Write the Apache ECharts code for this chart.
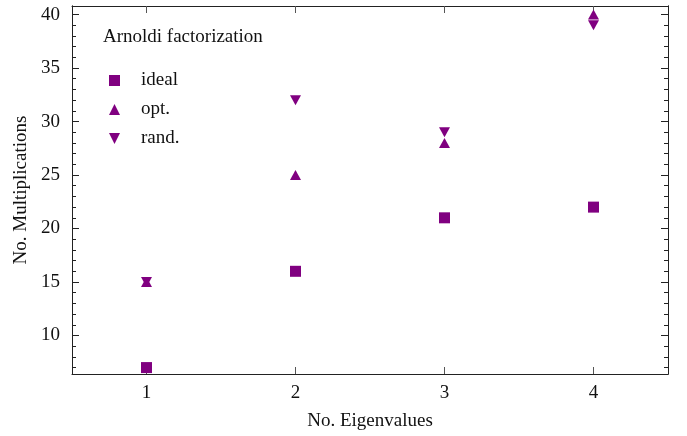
<!DOCTYPE html>
<html>
<head>
<meta charset="utf-8">
<script src="https://cdn.jsdelivr.net/npm/echarts@6/dist/echarts.min.js"></script>
<style>
  html, body { margin: 0; padding: 0; background: #fff; }
  #chart { width: 687px; height: 436px; }
</style>
</head>
<body>
<div id="chart"></div>
<script>
// Number of eigenvalues requested
const eigenvalues = [1, 2, 3, 4];
// Matrix-vector multiplications needed per strategy
const idealMults = [7, 16, 21, 22];
const optMults = [15, 25, 28, 40];
const randMults = [15, 32, 29, 39];

// Axis ticks
const xTicks = [1, 2, 3, 4];
const yMajorTicks = [10, 15, 20, 25, 30, 35, 40];
const yMinorTicks = [7, 8, 9, 11, 12, 13, 14, 16, 17, 18, 19, 21, 22, 23, 24,
  26, 27, 28, 29, 31, 32, 33, 34, 36, 37, 38, 39];

const FONT = 'Liberation Serif';
const PURPLE = '#800080';
const FRAME = '#222';
const X_MIN = 0.5, X_MAX = 4.5;
const Y_MIN = 6.4, Y_MAX = 40.8;

const downTriangle = 'path://M0,0L2,0L1,2Z';

function pairs(values) {
  return eigenvalues.map((x, i) => [x, values[i]]);
}

function yAxisDef(position, ticks, len, withLabels, withName) {
  return {
    type: 'value', position: position, min: Y_MIN, max: Y_MAX,
    name: withName ? 'No. Multiplications' : '',
    nameLocation: 'middle', nameGap: 37,
    nameTextStyle: { fontFamily: FONT, fontSize: 19, color: '#111' },
    axisLine: { show: true, onZero: false, lineStyle: { color: FRAME, width: 1 } },
    axisTick: { show: true, inside: true, length: len, customValues: ticks,
      lineStyle: { color: FRAME, width: 1 } },
    axisLabel: withLabels
      ? { show: true, customValues: ticks, margin: 12, fontFamily: FONT, fontSize: 19, color: '#111' }
      : { show: false },
    splitLine: { show: false }
  };
}

function xAxisDef(position, withLabels) {
  return {
    type: 'value', position: position, min: X_MIN, max: X_MAX,
    name: withLabels ? 'No. Eigenvalues' : '',
    nameLocation: 'middle', nameGap: 38,
    nameTextStyle: { fontFamily: FONT, fontSize: 19, color: '#111' },
    axisLine: { show: true, onZero: false, lineStyle: { color: FRAME, width: 1 } },
    axisTick: { show: true, inside: true, length: 7, customValues: xTicks,
      lineStyle: { color: '#555', width: 1 } },
    axisLabel: withLabels
      ? { show: true, customValues: xTicks, margin: 10, fontFamily: FONT, fontSize: 19, color: '#111' }
      : { show: false },
    splitLine: { show: false }
  };
}

const markStyle = { color: PURPLE, opacity: 1 };

const chart = echarts.init(document.getElementById('chart'), null, { renderer: 'canvas' });

chart.setOption({
  animation: false,
  backgroundColor: '#fff',
  grid: { left: 72, right: 19, top: 6, bottom: 61, containLabel: false },
  title: {
    text: 'Arnoldi factorization',
    left: 103, top: 28, padding: 0,
    textStyle: { fontFamily: FONT, fontSize: 19, fontWeight: 'normal', color: '#111' }
  },
  legend: {
    orient: 'vertical',
    left: 104, top: 66,
    itemWidth: 11, itemHeight: 11, itemGap: 10,
    textStyle: { fontFamily: FONT, fontSize: 19, color: '#111', padding: [0, 0, 0, 16] },
    data: ['ideal', 'opt.', 'rand.']
  },
  xAxis: [xAxisDef('bottom', true), xAxisDef('top', false)],
  yAxis: [
    yAxisDef('left', yMajorTicks, 7, true, true),
    yAxisDef('left', yMinorTicks, 4, false, false),
    yAxisDef('right', yMajorTicks, 7, false, false),
    yAxisDef('right', yMinorTicks, 4, false, false)
  ],
  series: [
    {
      name: 'ideal', type: 'scatter', symbol: 'rect', symbolSize: 11,
      itemStyle: markStyle, data: pairs(idealMults)
    },
    {
      name: 'opt.', type: 'scatter', symbol: 'triangle', symbolSize: [11, 10],
      itemStyle: markStyle, data: pairs(optMults)
    },
    {
      name: 'rand.', type: 'scatter', symbol: downTriangle, symbolSize: [11, 10],
      itemStyle: markStyle, data: pairs(randMults)
    }
  ]
});
</script>
</body>
</html>
